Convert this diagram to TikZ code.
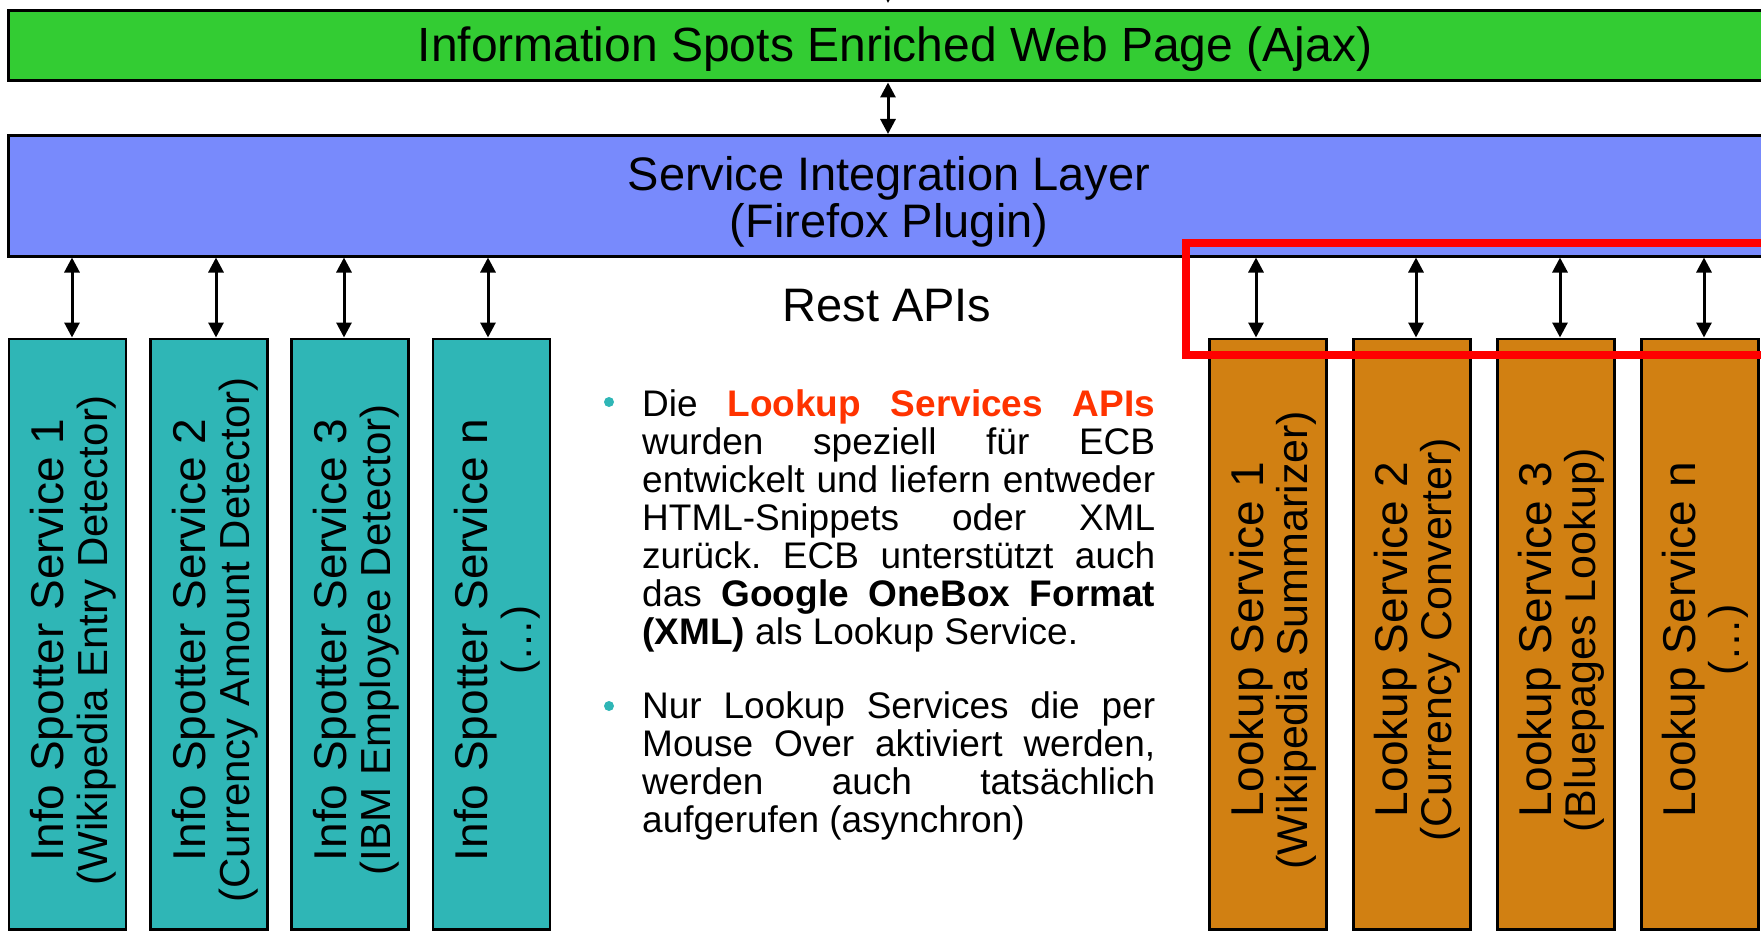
\documentclass[tikz,border=0pt]{standalone}
\usepackage{fontspec}
\setmainfont{Liberation Sans}
\usetikzlibrary{arrows.meta}
\definecolor{gfill}{RGB}{51,204,51}
\definecolor{bfill}{RGB}{120,138,252}
\definecolor{tfill}{RGB}{47,182,182}
\definecolor{ofill}{RGB}{209,128,18}
\definecolor{hot}{RGB}{255,51,0}
\definecolor{hlred}{RGB}{255,0,0}
\newcommand{\jline}[1]{\makebox[513pt][s]{#1}}
\begin{document}
\frenchspacing
\begin{tikzpicture}[x=1pt,y=-1pt,
  layer/.style={draw=black, line width=3pt, minimum width=1791.5pt, inner sep=0pt, outer sep=0pt},
  svcbox/.style={draw=black, line width=2.5pt, inner sep=0pt, outer sep=0pt, minimum width=117pt, minimum height=590.5pt},
  ibox/.style={svcbox, fill=tfill},
  lbox/.style={svcbox, fill=ofill},
  dbl/.style={{Triangle[length=15pt,width=15pt]}-{Triangle[length=15pt,width=15pt]}, line width=3pt, shorten <=1.5pt, shorten >=1.5pt},
  big/.style={font=\fontsize{47}{47}\selectfont, inner sep=0pt},
  vlab/.style={rotate=90, align=center, anchor=north, inner sep=0pt, font=\fontsize{46}{44}\selectfont},
  para/.style={align=left, anchor=north west, inner sep=0pt, font=\fontsize{37}{38}\selectfont},
  dot/.style={circle, fill=tfill, minimum size=10pt, inner sep=0pt},
]
\useasboundingbox (0,0) rectangle (1761,931);
\clip (0,0) rectangle (1761,931);

% layers
\node[layer, fill=gfill, minimum height=70.5pt] (web) at (904.25,45.75) {};
\node[big, font=\fontsize{48}{48}\selectfont, anchor=base] (webtxt) at (895,62) {Information Spots Enriched Web Page (Ajax)};
\node[layer, fill=bfill, minimum height=120.5pt] (sil) at (904.25,195.75) {};
\node[big, align=center, anchor=north] (siltxt) at (889,155) {\rule{0pt}{35pt}Service Integration Layer\\(Firefox Plugin)};

% info spotter boxes
\node[ibox] (is1) at (67.5,634.25) {};
\node[ibox] (is2) at (209,634.25) {};
\node[ibox] (is3) at (350,634.25) {};
\node[ibox] (is4) at (491.5,634.25) {};
\node[vlab] (is1t) at (29,640) {\rule{0pt}{34pt}Info Spotter Service 1\\{\fontsize{42}{44}\selectfont (Wikipedia Entry Detector)}};
\node[vlab] (is2t) at (171,640) {\rule{0pt}{34pt}Info Spotter Service 2\\{\fontsize{42}{44}\selectfont (Currency Amount Detector)}};
\node[vlab] (is3t) at (312,640) {\rule{0pt}{34pt}Info Spotter Service 3\\{\fontsize{42}{44}\selectfont (IBM Employee Detector)}};
\node[vlab] (is4t) at (453,640) {\rule{0pt}{34pt}Info Spotter Service n\\{\fontsize{42}{44}\selectfont (…)}};

% lookup boxes
\node[lbox] (ls1) at (1268,634.25) {};
\node[lbox] (ls2) at (1412,634.25) {};
\node[lbox] (ls3) at (1556,634.25) {};
\node[lbox] (ls4) at (1700,634.25) {};
\node[vlab] (ls1t) at (1229,640) {\rule{0pt}{34pt}Lookup Service 1\\{\fontsize{43}{44}\selectfont (Wikipedia Summarizer)}};
\node[vlab] (ls2t) at (1373,640) {\rule{0pt}{34pt}Lookup Service 2\\{\fontsize{43}{44}\selectfont (Currency Converter)}};
\node[vlab] (ls3t) at (1517,640) {\rule{0pt}{34pt}Lookup Service 3\\{\fontsize{43}{44}\selectfont (Bluepages Lookup)}};
\node[vlab] (ls4t) at (1661,640) {\rule{0pt}{34pt}Lookup Service n\\{\fontsize{43}{44}\selectfont (…)}};

% connectors
\coordinate (c0) at (888,0);
\draw[dbl] (web.south -| c0) -- (sil.north -| c0);
\coordinate (ctop) at (888,-40);
\coordinate (ctip) at (888,3);
\draw[-{Triangle[length=15pt,width=15pt]}, line width=3pt] (ctop) -- (ctip);
\foreach \b/\x in {is1/72, is2/216, is3/344, is4/488, ls1/1256, ls2/1416, ls3/1560, ls4/1704} {
  \coordinate (c-\b) at (\x,0);
  \draw[dbl] (sil.south -| c-\b) -- (\b.north -| c-\b);
}

% highlight
\node[draw=hlred, line width=8pt, minimum width=664pt, minimum height=111.5pt, inner sep=0pt] (hl) at (1518,298.75) {};

% middle text
\node[big, anchor=base] (rest) at (887,321) {Rest APIs};
\node[dot] (d1) at (609,402) {};
\node[para] (p1) at (642,388) {\rule{0pt}{28pt}\jline{Die \textcolor{hot}{\textbf{Lookup Services APIs}}}\\
\jline{wurden speziell für ECB}\\
\jline{entwickelt und liefern entweder}\\
\jline{HTML-Snippets oder XML}\\
\jline{zurück. ECB unterstützt auch}\\
\jline{das \textbf{Google OneBox Format}}\\
\textbf{(XML)} als Lookup Service.};
\node[dot] (d2) at (609,706) {};
\node[para] (p2) at (642,690) {\rule{0pt}{28pt}\jline{Nur Lookup Services die per}\\
\jline{Mouse Over aktiviert werden,}\\
\jline{werden auch tatsächlich}\\
aufgerufen (asynchron)};
\end{tikzpicture}
\end{document}
